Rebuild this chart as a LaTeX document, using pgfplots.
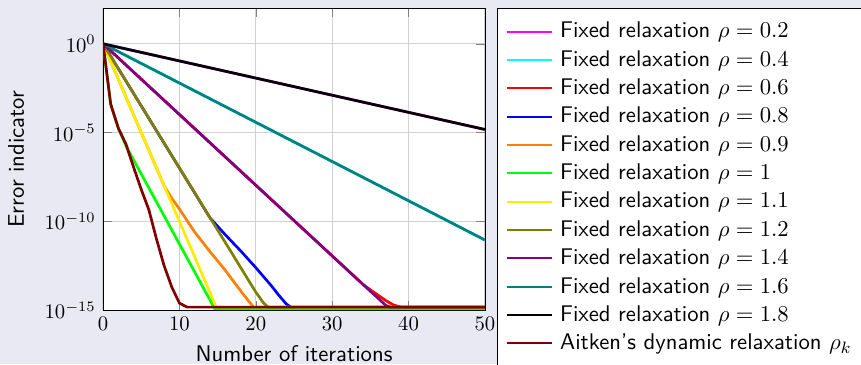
\documentclass[border=0pt]{standalone}
\usepackage{pgfplots}
\pgfplotsset{compat=1.18}
\definecolor{bgcol}{RGB}{233,233,244}
\definecolor{cMag}{rgb}{1,0,1}
\definecolor{cCyan}{rgb}{0,1,1}
\definecolor{cRed}{rgb}{1,0,0}
\definecolor{cBlue}{rgb}{0,0,1}
\definecolor{cOrange}{rgb}{1,0.5,0}
\definecolor{cGreen}{rgb}{0,1,0}
\definecolor{cYellow}{rgb}{1,0.92,0}
\definecolor{cOlive}{rgb}{0.5,0.5,0}
\definecolor{cViolet}{rgb}{0.5,0,0.5}
\definecolor{cTeal}{rgb}{0,0.5,0.5}
\definecolor{cBlack}{rgb}{0,0,0}
\definecolor{cDarkred}{rgb}{0.5,0,0}
\newcommand{\lblfont}{\fontsize{10.95}{13.6}\selectfont\sffamily}
\begin{document}
\begin{tikzpicture}
\fill[bgcol] (-49.8pt,-26.1pt) rectangle (366.2pt,149.9pt);
\begin{axis}[
  scale only axis,
  width=184.5pt, height=145.9pt,
  axis background/.style={fill=white},
  ymode=log,
  xmin=0, xmax=50, ymin=1e-15, ymax=1e2,
  xtick={0,10,20,30,40,50},
  ytick={1e0,1e-5,1e-10,1e-15},
  minor ytick={},
  grid=major,
  major grid style={gray!35, line width=0.6pt},
  xlabel={Number of iterations},
  ylabel={Error indicator},
  label style={font=\lblfont},
  ylabel shift=3pt,
  every axis plot/.append style={line width=1.3pt},
  legend cell align=left,
  legend style={at={(1.0315,1)}, anchor=north west, draw=black, fill=white,
    font=\lblfont, inner xsep=4pt, inner ysep=4.5pt, row sep=0.6pt},
  legend image code/.code={\draw[#1,line width=1pt] (0pt,0pt) -- (21.7pt,0pt); \path (23.2pt,0pt);},
]
% rho = 0.2
\addplot[cMag] coordinates {(0,1) (50,1.5e-5)};
\addlegendentry{Fixed relaxation $\rho = 0.2$}
% rho = 0.4
\addplot[cCyan] coordinates {(0,1) (50,9e-12)};
\addlegendentry{Fixed relaxation $\rho = 0.4$}
% rho = 0.6
\addplot[cRed] coordinates {(0,1) (34,2.95e-14) (35,1.41e-14) (36,7.1e-15) (37,3.55e-15) (38,2.0e-15) (39,1.5e-15) (50,1.5e-15)};
\addlegendentry{Fixed relaxation $\rho = 0.6$}
% rho = 0.8
\addplot[cBlue] coordinates {(0,1) (14,1.6e-10) (16,1.78e-11) (18,2.24e-12) (20,2.5e-13) (22,2.5e-14) (23,7.1e-15) (24,2.24e-15) (24.6,1.5e-15) (50,1.5e-15)};
\addlegendentry{Fixed relaxation $\rho = 0.8$}
% rho = 0.9
\addplot[cOrange] coordinates {(0,1) (8,1e-8) (9,2.0e-9) (10,5.0e-10) (12,2.5e-11) (14,2.0e-12) (16,1.78e-13) (18,1.26e-14) (19,3.55e-15) (19.7,1.5e-15) (50,1.5e-15)};
\addlegendentry{Fixed relaxation $\rho = 0.9$}
% rho = 1
\addplot[cGreen] coordinates {(0,1) (1,3.98e-4) (2,1.78e-5) (3,1.78e-6) (14.6,1.26e-15) (15,1.2e-15) (50,1.2e-15)};
\addlegendentry{Fixed relaxation $\rho = 1$}
% rho = 1.1
\addplot[cYellow] coordinates {(0,1) (14,1e-14) (14.8,1.5e-15) (50,1.5e-15)};
\addlegendentry{Fixed relaxation $\rho = 1.1$}
% rho = 1.2
\addplot[cOlive] coordinates {(0,1) (20,1.05e-14) (21,2.6e-15) (21.6,1.5e-15) (50,1.5e-15)};
\addlegendentry{Fixed relaxation $\rho = 1.2$}
% rho = 1.4
\addplot[cViolet] coordinates {(0,1) (35,1.17e-14) (36,4.8e-15) (37,1.9e-15) (37.6,1.5e-15) (50,1.5e-15)};
\addlegendentry{Fixed relaxation $\rho = 1.4$}
% rho = 1.6
\addplot[cTeal] coordinates {(0,1) (50,9e-12)};
\addlegendentry{Fixed relaxation $\rho = 1.6$}
% rho = 1.8
\addplot[cBlack] coordinates {(0,1) (50,1.5e-5)};
\addlegendentry{Fixed relaxation $\rho = 1.8$}
% Aitken
\addplot[cDarkred] coordinates {(0,1) (1,3.98e-4) (2,1.78e-5) (3,2.24e-6) (4,1.12e-7) (5,6.31e-9) (6,4.47e-10) (7,1e-11) (8,3.16e-13) (9,2.0e-14) (10,2.51e-15) (11,1.5e-15) (50,1.5e-15)};
\addlegendentry{Aitken's dynamic relaxation $\rho_k$}
\end{axis}
\pgfresetboundingbox
\useasboundingbox (-49.8pt,-26.1pt) rectangle (366.2pt,149.9pt);
\end{tikzpicture}
\end{document}
